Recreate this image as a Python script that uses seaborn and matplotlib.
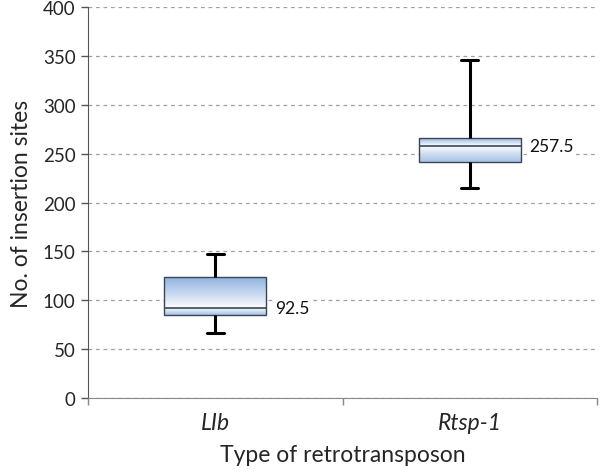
import numpy as np
import pandas as pd
import seaborn as sns
import matplotlib.pyplot as plt
from matplotlib.colors import to_rgb

# five-number summaries (min, q1, median, q3, max)
categories = ['LIb', 'Rtsp-1']
lib_values = [67, 85, 92.5, 124, 147]
rtsp_values = [215, 241, 257.5, 266, 346]
median_labels = ['92.5', '257.5']
y_ticks = [0, 50, 100, 150, 200, 250, 300, 350, 400]

df = pd.DataFrame({
    'type': [categories[0]] * len(lib_values) + [categories[1]] * len(rtsp_values),
    'sites': lib_values + rtsp_values,
})

sns.set_style('ticks')
plt.rcParams['font.family'] = ['Lato', 'DejaVu Sans']

fig = plt.figure(figsize=(6, 4.77), dpi=100)
ax = fig.add_axes([0.1467, 0.1635, 0.8483, 0.8195])

edge = '#3a4556'
sns.boxplot(data=df, x='type', y='sites', ax=ax, whis=(0, 100), width=0.4,
            color='white', linecolor=edge, linewidth=1, capwidths=0.065,
            whiskerprops={'color': 'black', 'linewidth': 2.2},
            capprops={'color': 'black', 'linewidth': 2.2},
            medianprops={'color': edge, 'linewidth': 1.2})

# gradient fill: blue at the box edges, fading to white at the median
blue = np.array(to_rgb('#8db0df'))
white = np.ones(3)
for patch, vals in zip(ax.patches, [lib_values, rtsp_values]):
    ext = patch.get_path().get_extents()
    q1, med, q3 = np.percentile(vals, [25, 50, 75])
    ys = np.linspace(q1, q3, 300)
    t = np.where(ys >= med, (ys - med) / (q3 - med), (med - ys) / (med - q1) * 0.75)
    t = np.clip(t, 0, 1) ** 0.9
    col = white[None, :] * (1 - t[:, None]) + blue[None, :] * t[:, None]
    img = np.repeat(col[:, None, :], 2, axis=1)
    im = ax.imshow(img, extent=[ext.x0, ext.x1, q1, q3], origin='lower',
                   aspect='auto', zorder=1.5, interpolation='bilinear')
    im.set_clip_path(patch)
    patch.set_facecolor('none')
    patch.set_zorder(2)

for i, (vals, lab) in enumerate(zip([lib_values, rtsp_values], median_labels)):
    ax.text(i + 0.235, np.median(vals), lab, va='center', ha='left', fontsize=12.5,
            color='#111111',
            bbox=dict(facecolor='white', edgecolor='none', pad=1.5), zorder=3)

ax.set_xlim(-0.5, 1.5)
ax.set_ylim(0, 400)
ax.set_yticks(y_ticks)
ax.yaxis.grid(True, linestyle=(0, (3, 3)), color='#a0a0a0', linewidth=0.9)
ax.set_axisbelow(True)

ax.set_xticks([0, 1])
ax.set_xticklabels(categories, fontstyle='italic', fontsize=16.5)
ax.set_xticks([-0.5, 0.5, 1.5], minor=True)
ax.tick_params(axis='x', which='major', length=0, pad=10)
ax.tick_params(axis='x', which='minor', length=5, color='#888888', width=1)
ax.tick_params(axis='y', length=5, width=1, color='#555555', labelsize=13.5, pad=4)

ax.set_xlabel('Type of retrotransposon', fontsize=16.5, labelpad=8)
ax.set_ylabel('No. of insertion sites', fontsize=16.5, labelpad=8)

sns.despine(ax=ax)
ax.spines['left'].set_color('#555555')
ax.spines['bottom'].set_color('#888888')

plt.savefig('out.png', dpi=100)
